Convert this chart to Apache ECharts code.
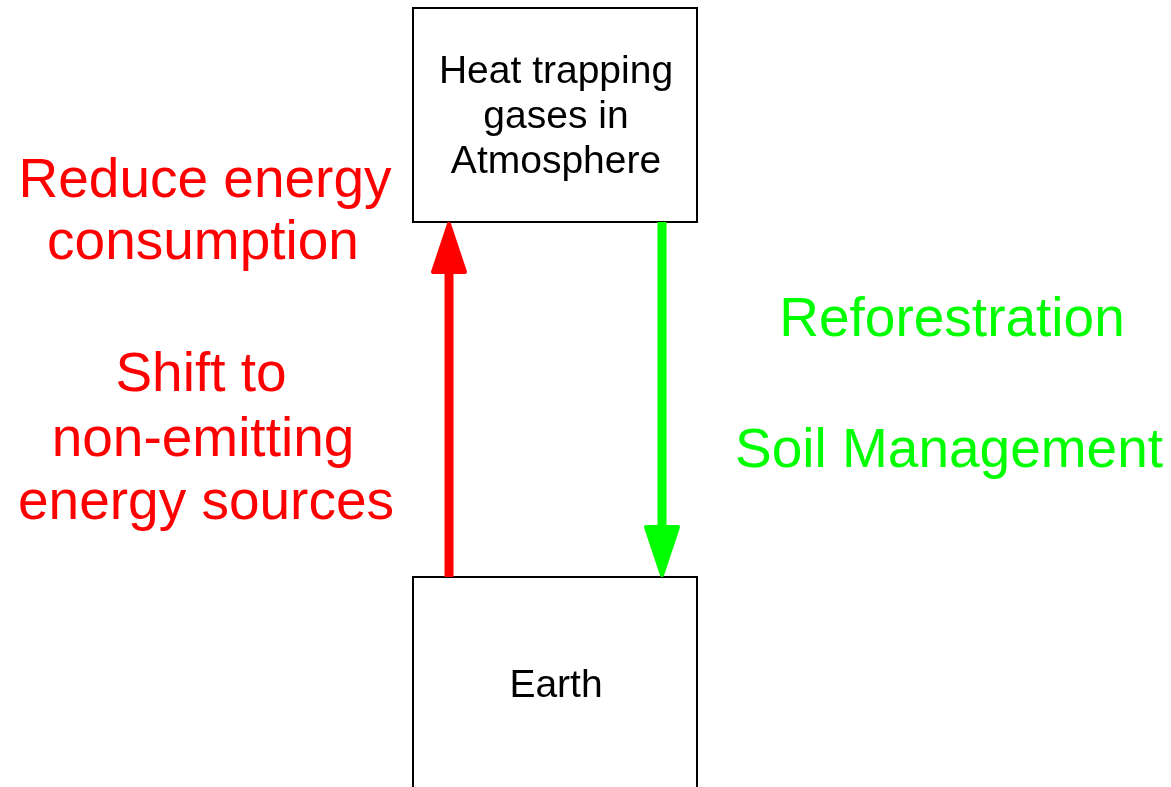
<!DOCTYPE html>
<html>
<head>
<meta charset="utf-8">
<script src="https://cdn.jsdelivr.net/npm/echarts@6/dist/echarts.min.js"></script>
<style>html,body{margin:0;padding:0;background:#fff}#main{width:1171px;height:787px}</style>
</head>
<body>
<div id="main"></div>
<script>
// Diagram data (in diagram units, drawn through hidden value axes)
const boxLabels = ['Heat trapping\ngases in\nAtmosphere', 'Earth'];
const boxLeft = [413, 413];
const boxRight = [697, 697];
const boxTop = [8, 577];
const boxBottom = [222, 820];
const boxTextY = [[72, 117, 162], [686]];

const arrowNames = ['emissions', 'sinks'];
const arrowX = [449, 662];
const arrowFrom = [577, 222];
const arrowTo = [222, 577];
const arrowColors = ['#ff0000', '#00ff00'];

const redLines = ['Reduce energy', 'consumption', 'Shift to', 'non-emitting', 'energy sources'];
const redLineY = [182, 244, 376, 441, 504];
const redLineX = [205, 203, 201, 203, 206];

const greenLines = ['Reforestration', 'Soil Management'];
const greenLineY = [321, 452];
const greenLineX = [952, 949];

const FONT = '"Liberation Sans", Arial, Helvetica, sans-serif';

const chart = echarts.init(document.getElementById('main'), null, {renderer: 'canvas'});

const boxData = boxLabels.map((t, i) => [boxLeft[i], boxTop[i], boxRight[i], boxBottom[i], i]);
const arrowData = arrowNames.map((n, i) => [arrowX[i], arrowFrom[i], arrowTo[i], i]);
const redData = redLines.map((t, i) => [redLineX[i], redLineY[i], i]);
const greenData = greenLines.map((t, i) => [greenLineX[i], greenLineY[i], i]);

chart.setOption({
  animation: false,
  backgroundColor: '#ffffff',
  grid: {left: 0, right: 0, top: 0, bottom: 0},
  xAxis: {type: 'value', min: 0, max: 1171, show: false},
  yAxis: {type: 'value', min: 0, max: 787, inverse: true, show: false},
  series: [
    {
      type: 'custom',
      name: 'boxes',
      data: boxData,
      renderItem: function (params, api) {
        const i = api.value(4);
        const p0 = api.coord([api.value(0), api.value(1)]);
        const p1 = api.coord([api.value(2), api.value(3)]);
        const cx = (p0[0] + p1[0]) / 2;
        const lines = boxLabels[i].split('\n');
        const children = [{
          type: 'rect',
          shape: {x: p0[0], y: p0[1], width: p1[0] - p0[0], height: p1[1] - p0[1]},
          style: {fill: '#ffffff', stroke: '#000000', lineWidth: 2}
        }];
        lines.forEach((ln, k) => {
          const py = api.coord([0, boxTextY[i][k]])[1];
          children.push({
            type: 'text',
            style: {text: ln, x: cx + 1, y: py, fill: '#000000', fontSize: 39, fontFamily: FONT, align: 'center', verticalAlign: 'middle'}
          });
        });
        return {type: 'group', children: children};
      }
    },
    {
      type: 'custom',
      name: 'arrows',
      data: arrowData,
      renderItem: function (params, api) {
        const i = api.value(3);
        const x = api.coord([api.value(0), 0])[0];
        const yFrom = api.coord([0, api.value(1)])[1];
        const yTo = api.coord([0, api.value(2)])[1];
        const dir = yTo < yFrom ? -1 : 1;
        const headLen = 50, headHalf = 16;
        const baseY = yTo - dir * headLen;
        const c = arrowColors[i];
        return {
          type: 'group',
          children: [
            {type: 'line', shape: {x1: x, y1: yFrom, x2: x, y2: baseY + dir * 2}, style: {stroke: c, lineWidth: 9}},
            {type: 'polygon', shape: {points: [[x, yTo - dir * 2], [x - headHalf, baseY], [x + headHalf, baseY]]},
              style: {fill: c, stroke: c, lineWidth: 4, lineJoin: 'round'}}
          ]
        };
      }
    },
    {
      type: 'custom',
      name: 'reduce',
      data: redData,
      renderItem: function (params, api) {
        const p = api.coord([api.value(0), api.value(1)]);
        return {type: 'text', style: {text: redLines[api.value(2)], x: p[0], y: p[1], fill: '#ff0000', fontSize: 55, fontFamily: FONT, align: 'center', verticalAlign: 'middle'}};
      }
    },
    {
      type: 'custom',
      name: 'remove',
      data: greenData,
      renderItem: function (params, api) {
        const p = api.coord([api.value(0), api.value(1)]);
        return {type: 'text', style: {text: greenLines[api.value(2)], x: p[0], y: p[1], fill: '#00ff00', fontSize: 55, fontFamily: FONT, align: 'center', verticalAlign: 'middle'}};
      }
    }
  ]
});
</script>
</body>
</html>
